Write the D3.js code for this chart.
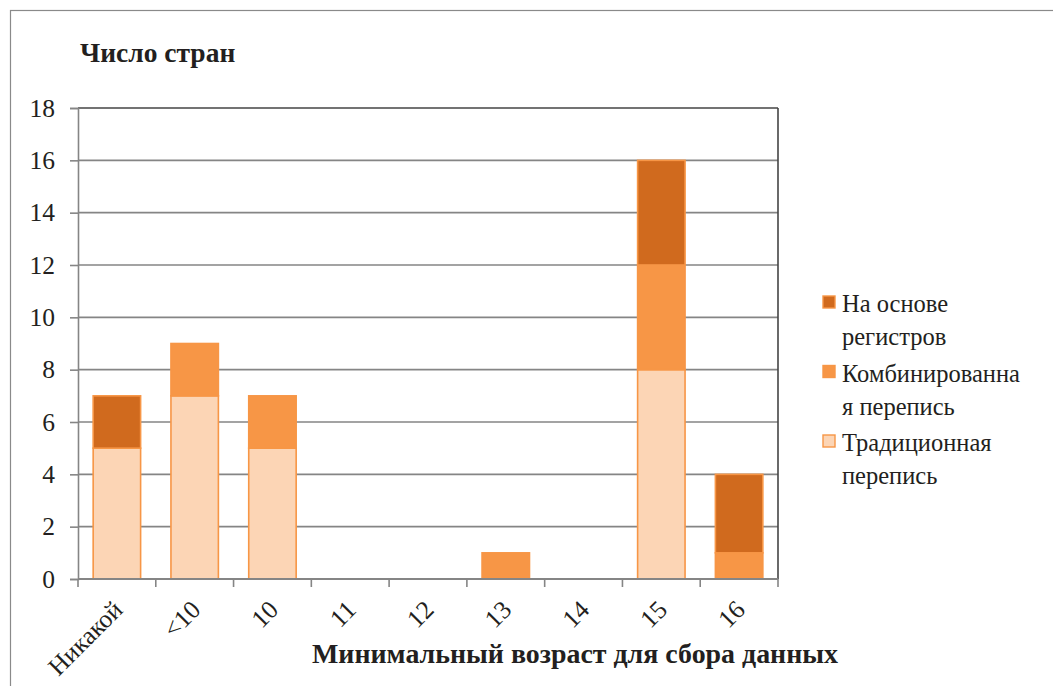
<!DOCTYPE html>
<html><head><meta charset="utf-8">
<script src="https://cdn.jsdelivr.net/npm/d3@7"></script>
<style>body{margin:0;background:#fff}svg{display:block}text{font-family:"Liberation Serif","Times New Roman",serif;fill:#231f20}</style>
</head><body><svg id="c" width="1053" height="686"></svg>
<script>
const categories = ["Никакой","<10","10","11","12","13","14","15","16"];
const traditional = [5,7,5,0,0,0,0,8,0];
const combined =    [0,2,2,0,0,1,0,4,1];
const registers =   [2,0,0,0,0,0,0,4,3];
const yTicks = [0,2,4,6,8,10,12,14,16,18];
const seriesNames = ["Традиционная перепись","Комбинированная перепись","На основе регистров"];
const legendLines = [["На основе","регистров"],["Комбинированна","я перепись"],["Традиционная","перепись"]];
const colors = ["#FCD5B5","#F79646","#D06A1E"];

const svg = d3.select("#c");
svg.append("rect").attr("x",10.5).attr("y",10.5).attr("width",1100).attr("height",700)
  .attr("fill","none").attr("stroke","#8a8a8a").attr("stroke-width",1.2);

const L=78,R=778,T=108,B=579;
const x = d3.scaleBand().domain(categories).range([L,R]).paddingInner(0.39).paddingOuter(0.195);
const xb = d3.scaleBand().domain(categories).range([L,R]);
const y = d3.scaleLinear().domain([0,18]).range([B,T]);

// gridlines
svg.append("g").selectAll("line").data(yTicks.filter(d=>d>0)).join("line")
  .attr("x1",L).attr("x2",R).attr("y1",d=>y(d)).attr("y2",d=>y(d))
  .attr("stroke",d=>d===18?"#444":"#858585").attr("stroke-width",1.6);
svg.append("line").attr("x1",R).attr("x2",R).attr("y1",T).attr("y2",B).attr("stroke","#444").attr("stroke-width",1.6);

// y axis
const ya = svg.append("g").attr("transform",`translate(${L},0)`)
  .call(d3.axisLeft(y).tickValues(yTicks).tickSize(8).tickPadding(15));
ya.select(".domain").attr("stroke","#858585").attr("stroke-width",1.6);
ya.selectAll(".tick line").attr("stroke","#858585").attr("stroke-width",1.6);
ya.selectAll(".tick text").attr("font-size",25.5).attr("font-family","Liberation Serif").attr("fill","#231f20");

// bars
const stackData = categories.map((c,i)=>({cat:c,t:traditional[i],c:combined[i],r:registers[i]}));
const stack = d3.stack().keys(["t","c","r"])(stackData);
stack.forEach((s,si)=>{
  svg.append("g").selectAll("rect").data(s.filter(d=>d[1]-d[0]>0)).join("rect")
    .attr("x",d=>x(d.data.cat)).attr("width",x.bandwidth())
    .attr("y",d=>y(d[1])).attr("height",d=>y(d[0])-y(d[1]))
    .attr("fill",colors[si]).attr("stroke","#F79646").attr("stroke-width",1.6);
});

// x axis
const xa = svg.append("g").attr("transform",`translate(0,${B})`);
xa.append("line").attr("x1",L).attr("x2",R).attr("stroke","#858585").attr("stroke-width",2);
xa.selectAll("line.t").data(categories.concat(["_end"])).join("line").attr("class","t")
  .attr("x1",(d,i)=>L+i*xb.bandwidth()).attr("x2",(d,i)=>L+i*xb.bandwidth())
  .attr("y1",0).attr("y2",8).attr("stroke","#858585").attr("stroke-width",1.6);
xa.selectAll("text").data(categories).join("text")
  .attr("transform",d=>`translate(${xb(d)+xb.bandwidth()/2+1},${26}) rotate(-45)`)
  .attr("text-anchor","end").attr("dy","0.35em").attr("font-size",25.5).text(d=>d);

// titles
svg.append("text").attr("x",80).attr("y",62).attr("font-size",27.5).attr("font-weight","bold").text("Число стран");
svg.append("text").attr("x",575).attr("y",663).attr("text-anchor","middle").attr("font-size",27)
  .attr("font-weight","bold").attr("textLength",526).attr("lengthAdjust","spacingAndGlyphs")
  .text("Минимальный возраст для сбора данных");

// legend
const leg = svg.append("g");
const legOrder = [2,1,0];
legOrder.forEach((si,k)=>{
  const y0 = 302 + k*69.5;
  leg.append("rect").attr("x",823).attr("y",y0-6).attr("width",12).attr("height",12)
    .attr("fill",colors[si]).attr("stroke","#F79646").attr("stroke-width",1.4);
  legendLines[k].forEach((ln,j)=>{
    leg.append("text").attr("x",842).attr("y",y0+10+j*33).attr("font-size",24.5).text(ln);
  });
});
</script></body></html>
